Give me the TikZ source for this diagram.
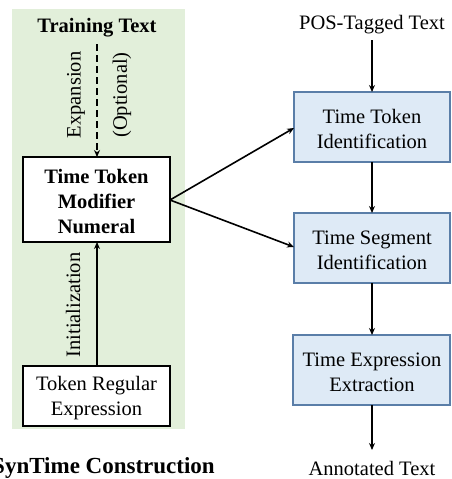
\documentclass[tikz,border=0pt]{standalone}
\usepackage{fontspec}
\setmainfont{Liberation Serif}
\usetikzlibrary{arrows.meta}
\definecolor{bggreen}{HTML}{E2EFDA}
\definecolor{boxblue}{HTML}{DEEAF6}
\definecolor{boxedge}{HTML}{5A7EA8}
\tikzset{
  txt/.style={font=\fontsize{20.5}{25}\selectfont, align=center, inner sep=0pt},
  boldtxt/.style={txt, font=\fontsize{20.5}{25}\selectfont\bfseries},
  whitebox/.style={draw=black, line width=1.2pt, fill=white},
  bluebox/.style={draw=boxedge, line width=1.2pt, fill=boxblue},
  arr/.style={line width=1.6pt, -{Stealth[length=7pt,width=6pt]}},
}
\begin{document}
\begin{tikzpicture}[x=1pt,y=-1pt]
\useasboundingbox (0,0) rectangle (451,479);
\fill[bggreen] (12,9) rectangle (185,429);
% left column
\node[boldtxt] (train) at (97,28) {Training Text};
\draw[whitebox] (23,157) rectangle (170,242);
\node[boldtxt] (ttm) at (96.5,202) {Time Token\\Modifier\\Numeral};
\coordinate (ttmN) at (97,157);
\coordinate (ttmS) at (97,242);
\coordinate (ttmE) at (170,200);
\draw[whitebox] (23,366) rectangle (170,426);
\node[txt] (tre) at (96.5,398) {Token Regular\\Expression};
\coordinate (treN) at (97,366);
\coordinate (trainS) at (97,44);
\draw[arr, dashed, dash pattern=on 7pt off 4pt] (trainS) -- (ttmN);
\node[txt, rotate=90] (exp) at (76,95) {Expansion};
\node[txt, rotate=90] (opt) at (122,95) {(Optional)};
\draw[arr] (treN) -- (ttmS);
\node[txt, rotate=90] (init) at (73,305) {Initialization};
\node[txt, anchor=east, font=\fontsize{23}{27}\selectfont\bfseries] (syn) at (215,468) {SynTime Construction};
% right column
\node[txt] (pos) at (372,25) {POS-Tagged Text};
\coordinate (posS) at (372,40);
\draw[bluebox] (294,92) rectangle (450,162);
\node[txt] (b1) at (372,129) {Time Token\\Identification};
\draw[bluebox] (294,213) rectangle (450,283);
\node[txt] (b2) at (372,250) {Time Segment\\Identification};
\draw[bluebox] (293,335) rectangle (450,405);
\node[txt] (b3) at (372,372) {Time Expression\\Extraction};
\node[txt] (ann) at (372,468) {Annotated Text};
\coordinate (b1N) at (372,92);
\coordinate (b1S) at (372,162);
\coordinate (b1W) at (294,128);
\coordinate (b2N) at (372,213);
\coordinate (b2S) at (372,283);
\coordinate (b2W) at (294,247);
\coordinate (b3N) at (372,335);
\coordinate (b3S) at (372,405);
\coordinate (annN) at (372,450);
\draw[arr] (posS) -- (b1N);
\draw[arr] (b1S) -- (b2N);
\draw[arr] (b2S) -- (b3N);
\draw[arr] (b3S) -- (annN);
\draw[arr] (ttmE) -- (b1W);
\draw[arr] (ttmE) -- (b2W);
\end{tikzpicture}
\end{document}
